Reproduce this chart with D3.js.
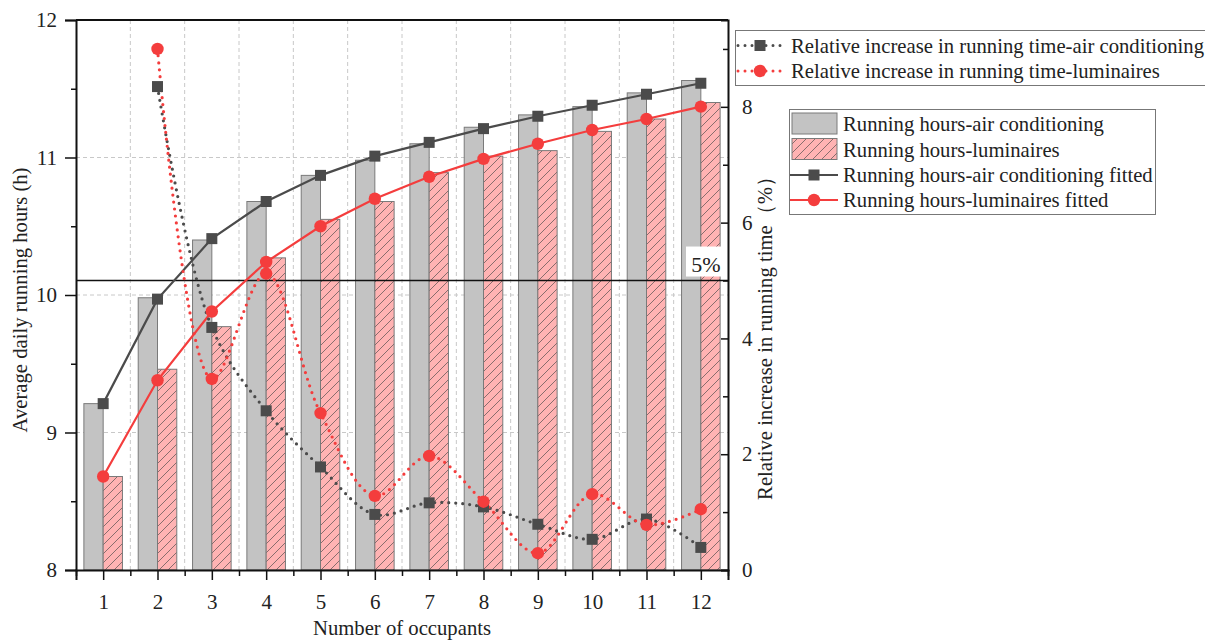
<!DOCTYPE html>
<html>
<head>
<meta charset="utf-8">
<script src="https://cdn.jsdelivr.net/npm/d3@7"></script>
<style>
  html, body { margin: 0; padding: 0; background: #fff; }
  svg { display: block; }
  text { font-family: "Liberation Serif", "Times New Roman", serif; fill: #222; }
</style>
</head>
<body>
<svg id="chart" width="1205" height="641"></svg>
<script>
// Number of occupants (categories)
const occupants = [1, 2, 3, 4, 5, 6, 7, 8, 9, 10, 11, 12];

// Average daily running hours (h)
const hoursAC    = [9.21, 9.98, 10.40, 10.68, 10.87, 10.98, 11.10, 11.22, 11.31, 11.37, 11.47, 11.56];
const hoursLum   = [8.68, 9.46, 9.77, 10.27, 10.55, 10.68, 10.89, 11.01, 11.05, 11.19, 11.28, 11.40];

// Fitted running hours (h)
const fittedAC   = [9.21, 9.97, 10.41, 10.68, 10.87, 11.01, 11.11, 11.21, 11.30, 11.38, 11.46, 11.54];
const fittedLum  = [8.68, 9.38, 9.88, 10.24, 10.50, 10.70, 10.86, 10.99, 11.10, 11.20, 11.28, 11.37];

// Relative increase in running time (%), from 2 occupants on
const relOccupants = [2, 3, 4, 5, 6, 7, 8, 9, 10, 11, 12];
const relAC      = [8.35, 4.19, 2.75, 1.78, 0.96, 1.16, 1.09, 0.79, 0.53, 0.88, 0.39];
const relLum     = [9.00, 3.30, 5.12, 2.71, 1.28, 1.97, 1.18, 0.29, 1.31, 0.78, 1.05];

// Axis ticks
const leftTicks  = [8, 9, 10, 11, 12];
const rightTicks = [0, 2, 4, 6, 8];
const threshold  = 5;

const legendRel = [
  "Relative increase in running time-air conditioning",
  "Relative increase in running time-luminaires"
];
const legendHours = [
  "Running hours-air conditioning",
  "Running hours-luminaires",
  "Running hours-air conditioning fitted",
  "Running hours-luminaires fitted"
];

const C = {
  dark: "#4b4b4b",
  red: "#f43d3d",
  barGray: "#c3c3c3",
  barPink: "#ffb3b3",
  barEdge: "#7a7a7a",
  grid: "#c8c8c8"
};
const FONT = 20.7;

const svg = d3.select("#chart");
const plot = { left: 76, right: 728, top: 20, bottom: 570 };

const x  = d3.scaleLinear().domain([0.5, 12.5]).range([plot.left, plot.right]);
const yL = d3.scaleLinear().domain([8, 12]).range([plot.bottom, plot.top]);
const yR = d3.scaleLinear().domain([0, 9.5]).range([plot.bottom, plot.top]);
const barW = 0.355;

// hatch pattern for luminaire bars
const defs = svg.append("defs");
const pat = defs.append("pattern")
  .attr("id", "hatch").attr("patternUnits", "userSpaceOnUse")
  .attr("width", 9).attr("height", 9);
pat.append("rect").attr("width", 9).attr("height", 9).attr("fill", C.barPink);
pat.append("path").attr("d", "M0,9 L9,0 M-2,2 L2,-2 M7,11 L11,7")
  .attr("stroke", "#6a5a5a").attr("stroke-width", 0.8);

// grid
const grid = svg.append("g");
grid.selectAll("line.v").data(d3.range(1.5, 12.5, 1)).join("line")
  .attr("x1", d => x(d)).attr("x2", d => x(d))
  .attr("y1", plot.top).attr("y2", plot.bottom)
  .attr("stroke", C.grid).attr("stroke-dasharray", "4,3").attr("stroke-width", 1);
grid.selectAll("line.h").data([9, 10, 11]).join("line")
  .attr("x1", plot.left).attr("x2", plot.right)
  .attr("y1", d => yL(d)).attr("y2", d => yL(d))
  .attr("stroke", C.grid).attr("stroke-dasharray", "4,3").attr("stroke-width", 1);

// bars
const bars = svg.append("g");
bars.selectAll("rect.ac").data(occupants).join("rect")
  .attr("x", (d) => x(d - barW)).attr("width", (d) => x(d) - x(d - barW))
  .attr("y", (d, i) => yL(hoursAC[i])).attr("height", (d, i) => yL(8) - yL(hoursAC[i]))
  .attr("fill", C.barGray).attr("stroke", C.barEdge).attr("stroke-width", 1);
bars.selectAll("rect.lum").data(occupants).join("rect")
  .attr("x", (d) => x(d)).attr("width", (d) => x(d + barW) - x(d))
  .attr("y", (d, i) => yL(hoursLum[i])).attr("height", (d, i) => yL(8) - yL(hoursLum[i]))
  .attr("fill", "url(#hatch)").attr("stroke", C.barEdge).attr("stroke-width", 1);

// 5% threshold line
svg.append("line")
  .attr("x1", plot.left).attr("x2", plot.right)
  .attr("y1", yR(threshold)).attr("y2", yR(threshold))
  .attr("stroke", "#111").attr("stroke-width", 1.6);
svg.append("rect").attr("x", 686).attr("y", yR(threshold) - 34).attr("width", 40).attr("height", 30).attr("fill", "#fff");
svg.append("text").attr("x", 706).attr("y", yR(threshold) - 9)
  .attr("text-anchor", "middle").attr("font-size", 22).text(threshold + "%");

// fitted lines
const fitLine = (arr) => d3.line().x((d, i) => x(occupants[i])).y((d) => yL(d))(arr);
svg.append("path").attr("d", fitLine(fittedAC)).attr("fill", "none")
  .attr("stroke", C.dark).attr("stroke-width", 2.2);
svg.append("path").attr("d", fitLine(fittedLum)).attr("fill", "none")
  .attr("stroke", C.red).attr("stroke-width", 2.2);

// relative increase curves (dotted)
const relLine = (arr) => d3.line().curve(d3.curveCatmullRom.alpha(0.5))
  .x((d, i) => x(relOccupants[i])).y((d) => yR(d))(arr);
svg.append("path").attr("d", relLine(relAC)).attr("fill", "none")
  .attr("stroke", C.dark).attr("stroke-width", 3.2)
  .attr("stroke-linecap", "round").attr("stroke-dasharray", "0,7");
svg.append("path").attr("d", relLine(relLum)).attr("fill", "none")
  .attr("stroke", C.red).attr("stroke-width", 3.2)
  .attr("stroke-linecap", "round").attr("stroke-dasharray", "0,7");

// markers
const sq = 11, cr = 6.2;
svg.append("g").selectAll("rect").data(fittedAC).join("rect")
  .attr("x", (d, i) => x(occupants[i]) - sq / 2).attr("y", d => yL(d) - sq / 2)
  .attr("width", sq).attr("height", sq).attr("fill", C.dark);
svg.append("g").selectAll("circle").data(fittedLum).join("circle")
  .attr("cx", (d, i) => x(occupants[i])).attr("cy", d => yL(d)).attr("r", cr).attr("fill", C.red);
svg.append("g").selectAll("rect").data(relAC).join("rect")
  .attr("x", (d, i) => x(relOccupants[i]) - sq / 2).attr("y", d => yR(d) - sq / 2)
  .attr("width", sq).attr("height", sq).attr("fill", C.dark);
svg.append("g").selectAll("circle").data(relLum).join("circle")
  .attr("cx", (d, i) => x(relOccupants[i])).attr("cy", d => yR(d)).attr("r", cr).attr("fill", C.red);

// frame
svg.append("line").attr("x1", plot.left).attr("x2", plot.right).attr("y1", plot.top).attr("y2", plot.top)
  .attr("stroke", "#111").attr("stroke-width", 2);

// left axis
svg.append("g").attr("transform", `translate(${plot.left},0)`)
  .call(d3.axisLeft(yL).tickValues(leftTicks).tickFormat(d3.format("d")).tickSize(11).tickPadding(8));
svg.append("g").attr("transform", `translate(${plot.left},0)`)
  .call(d3.axisLeft(yL).tickValues(d3.range(8.5, 12, 1)).tickFormat("").tickSize(5))
  .select(".domain").remove();

// right axis (ticks pointing inward)
svg.append("g").attr("transform", `translate(${plot.right},0)`)
  .call(d3.axisRight(yR).tickValues(rightTicks).tickFormat(d3.format("d")).tickSize(-7).tickPadding(14));
svg.append("g").attr("transform", `translate(${plot.right},0)`)
  .call(d3.axisRight(yR).tickValues([1, 3, 5, 7, 9]).tickFormat("").tickSize(-5))
  .select(".domain").remove();

// bottom axis
svg.append("g").attr("transform", `translate(0,${plot.bottom})`)
  .call(d3.axisBottom(x).tickValues(occupants).tickFormat(d3.format("d")).tickSize(10).tickPadding(14));
svg.append("g").attr("transform", `translate(0,${plot.bottom})`)
  .call(d3.axisBottom(x).tickValues(d3.range(0.5, 13, 1)).tickFormat("").tickSize(6))
  .select(".domain").remove();

svg.selectAll(".domain").attr("stroke", "#111").attr("stroke-width", 2);
svg.selectAll(".tick line").attr("stroke", "#111").attr("stroke-width", 1.5);
svg.selectAll(".tick text").attr("font-size", 21)
  .style("font-family", '"Liberation Serif", "Times New Roman", serif').attr("fill", "#333");

// axis titles
svg.append("text").attr("transform", `translate(27,300) rotate(-90)`)
  .attr("text-anchor", "middle").attr("font-size", FONT).text("Average daily running hours (h)");
svg.append("text").attr("transform", `translate(772,333) rotate(-90)`)
  .attr("text-anchor", "middle").attr("font-size", FONT).text("Relative increase in running time（%）");
svg.append("text").attr("x", 402).attr("y", 635)
  .attr("text-anchor", "middle").attr("font-size", FONT).text("Number of occupants");

// legend: relative increase
const lg1 = svg.append("g");
lg1.append("rect").attr("x", 735.5).attr("y", 30.5).attr("width", 480).attr("height", 55)
  .attr("fill", "#fff").attr("stroke", "#777").attr("stroke-width", 1);
[[C.dark, "sq"], [C.red, "ci"]].forEach(([col, m], i) => {
  const cy = 45.5 + i * 25.5;
  lg1.append("line").attr("x1", 738).attr("x2", 783).attr("y1", cy).attr("y2", cy)
    .attr("stroke", col).attr("stroke-width", 3).attr("stroke-linecap", "round").attr("stroke-dasharray", "0,7");
  if (m === "sq") lg1.append("rect").attr("x", 760 - sq / 2).attr("y", cy - sq / 2).attr("width", sq).attr("height", sq).attr("fill", col);
  else lg1.append("circle").attr("cx", 760).attr("cy", cy).attr("r", cr).attr("fill", col);
  lg1.append("text").attr("x", 791).attr("y", cy + 7).attr("font-size", FONT).text(legendRel[i]);
});

// legend: running hours
const lg2 = svg.append("g");
lg2.append("rect").attr("x", 789.5).attr("y", 109.5).attr("width", 366).attr("height", 105)
  .attr("fill", "#fff").attr("stroke", "#777").attr("stroke-width", 1);
const rowY = [124, 149.5, 175, 200];
lg2.append("rect").attr("x", 792).attr("y", rowY[0] - 11).attr("width", 45).attr("height", 21)
  .attr("fill", C.barGray).attr("stroke", C.barEdge);
lg2.append("rect").attr("x", 792).attr("y", rowY[1] - 11).attr("width", 45).attr("height", 21)
  .attr("fill", "url(#hatch)").attr("stroke", C.barEdge);
lg2.append("line").attr("x1", 790).attr("x2", 838).attr("y1", rowY[2]).attr("y2", rowY[2])
  .attr("stroke", C.dark).attr("stroke-width", 2.2);
lg2.append("rect").attr("x", 814 - sq / 2).attr("y", rowY[2] - sq / 2).attr("width", sq).attr("height", sq).attr("fill", C.dark);
lg2.append("line").attr("x1", 790).attr("x2", 838).attr("y1", rowY[3]).attr("y2", rowY[3])
  .attr("stroke", C.red).attr("stroke-width", 2.2);
lg2.append("circle").attr("cx", 814).attr("cy", rowY[3]).attr("r", cr).attr("fill", C.red);
legendHours.forEach((t, i) => {
  lg2.append("text").attr("x", 843).attr("y", rowY[i] + 7).attr("font-size", FONT).text(t);
});
</script>
</body>
</html>
